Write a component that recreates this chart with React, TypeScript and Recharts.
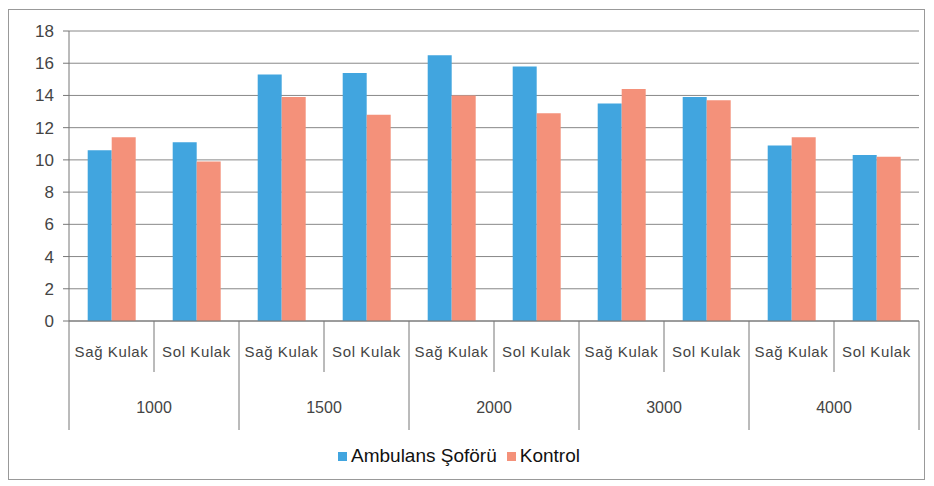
import { BarChart, Bar, XAxis, YAxis, CartesianGrid, Legend } from "recharts";

const ears = ["Sağ Kulak", "Sol Kulak", "Sağ Kulak", "Sol Kulak", "Sağ Kulak", "Sol Kulak", "Sağ Kulak", "Sol Kulak", "Sağ Kulak", "Sol Kulak"];
const freqs = ["1000", "1000", "1500", "1500", "2000", "2000", "3000", "3000", "4000", "4000"];
const ambulans = [10.6, 11.1, 15.3, 15.4, 16.5, 15.8, 13.5, 13.9, 10.9, 10.3];
const kontrol = [11.4, 9.9, 13.9, 12.8, 14.0, 12.9, 14.4, 13.7, 11.4, 10.2];
const yTicks = [0, 2, 4, 6, 8, 10, 12, 14, 16, 18];

const data = ears.map((ear, i) => ({
  key: `${freqs[i]}-${i}`,
  ear,
  freq: freqs[i],
  ambulans: ambulans[i],
  kontrol: kontrol[i],
}));

const W = 915;
const H = 469;
const M = { top: 21, right: 5, left: 0, bottom: 12 };
const Y_W = 60;
const BAND = (W - M.left - M.right - Y_W) / data.length;

const axisFont = "'Liberation Sans', Arial, sans-serif";

// two level category ticks: ear on top, frequency below, with divider lines
const EarTick = (props: any) => {
  const { x, y, index } = props;
  const row = data[index];
  const left = x - BAND / 2;
  const right = x + BAND / 2;
  const isGroupStart = index % 2 === 0;
  const isLast = index === data.length - 1;
  return (
    <g>
      <line x1={left} y1={y} x2={left} y2={y + (isGroupStart ? 109 : 51)} stroke="#777" strokeWidth={1} />
      {isLast && <line x1={right} y1={y} x2={right} y2={y + 109} stroke="#777" strokeWidth={1} />}
      <text x={x} y={y + 36} textAnchor="middle" fontSize={15} letterSpacing={0.6} fill="#444" fontFamily={axisFont}>
        {row.ear}
      </text>
      {!isGroupStart && (
        <text x={left} y={y + 92} textAnchor="middle" fontSize={16} fill="#444" fontFamily={axisFont}>
          {row.freq}
        </text>
      )}
    </g>
  );
};

export default function App() {
  return (
    <div style={{ width: 917, height: 471, border: "1px solid #999", marginTop: 1, boxSizing: "border-box", background: "#fff" }}>
      <BarChart width={W} height={H} data={data} margin={M} barCategoryGap="22%" barGap={0}>
        <CartesianGrid vertical={false} stroke="#888" />
        <XAxis
          dataKey="key"
          interval={0}
          height={124}
          tickLine={false}
          tickSize={0}
          tickMargin={0}
          axisLine={{ stroke: "#777" }}
          tick={<EarTick />}
        />
        <YAxis
          domain={[0, 18]}
          ticks={yTicks}
          width={Y_W}
          tickSize={6}
          tickMargin={9}
          axisLine={{ stroke: "#777" }}
          tickLine={{ stroke: "#777" }}
          tick={{ fontSize: 17, fill: "#444", fontFamily: axisFont }}
        />
        <Legend
          verticalAlign="bottom"
          iconType="square"
          iconSize={9}
          wrapperStyle={{ fontFamily: "'Liberation Sans', Arial, sans-serif", fontSize: 19, color: "#111" }}
          formatter={(v: any) => <span style={{ color: "#111" }}>{v}</span>}
        />
        <Bar dataKey="ambulans" name="Ambulans Şoförü" fill="#41A5DF" isAnimationActive={false} />
        <Bar dataKey="kontrol" name="Kontrol" fill="#F4917A" isAnimationActive={false} />
      </BarChart>
    </div>
  );
}
